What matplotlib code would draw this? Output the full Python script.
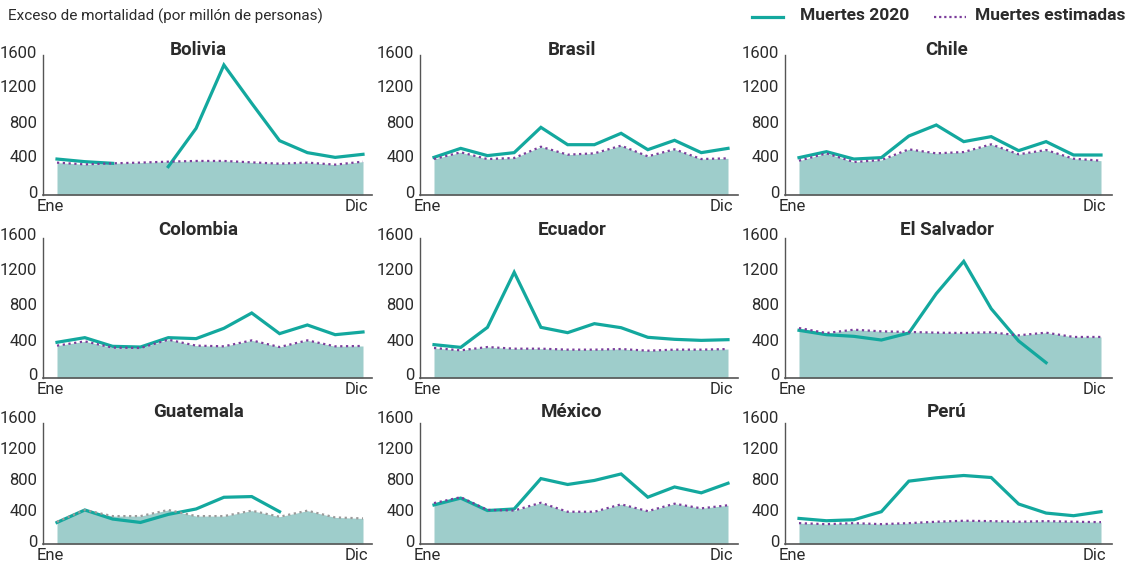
import numpy as np
import matplotlib
matplotlib.use("Agg")
import matplotlib.pyplot as plt
from matplotlib.lines import Line2D

plt.rcParams['font.family'] = ['Liberation Sans Narrow', 'Roboto', 'DejaVu Sans']

nan = np.nan
countries = ["Bolivia", "Brasil", "Chile", "Colombia", "Ecuador", "El Salvador",
             "Guatemala", "México", "Perú"]
first_month, last_month = "Ene", "Dic"
ytick_values = [0, 400, 800, 1200, 1600]

bolivia_2020 = [371, 341, 322, nan, 284, 722, 1446, 1008, 581, 444, 390, 425]
bolivia_est = [330, 310, 322, 330, 341, 349, 349, 333, 318, 330, 307, 341]
brasil_2020 = [390, 493, 410, 444, 733, 535, 535, 665, 478, 585, 444, 493]
brasil_est = [371, 448, 371, 383, 512, 421, 436, 524, 402, 482, 371, 379]
chile_2020 = [387, 455, 371, 387, 634, 760, 570, 627, 467, 570, 417, 417]
chile_est = [352, 436, 337, 360, 482, 436, 451, 539, 425, 474, 375, 352]
colombia_2020 = [368, 421, 322, 314, 421, 410, 528, 703, 467, 566, 455, 486]
colombia_est = [330, 379, 307, 303, 398, 330, 322, 390, 314, 390, 322, 326]
ecuador_2020 = [341, 310, 539, 1168, 539, 478, 581, 535, 425, 402, 390, 398]
ecuador_est = [303, 276, 314, 295, 295, 284, 284, 291, 272, 284, 284, 291]
salvador_2020 = [505, 455, 436, 394, 474, 924, 1293, 752, 383, 135, nan, nan]
salvador_est = [531, 474, 512, 493, 486, 478, 474, 482, 448, 478, 429, 429]
guatemala_2020 = [238, 399, 282, 238, 342, 412, 563, 572, 377, nan, nan, nan]
guatemala_est = [247, 399, 320, 320, 399, 320, 320, 390, 312, 390, 303, 290]
mexico_2020 = [464, 552, 392, 412, 804, 728, 780, 864, 564, 696, 620, 744]
mexico_est = [488, 564, 400, 392, 492, 376, 376, 472, 384, 480, 420, 460]
peru_2020 = [290, 260, 273, 377, 771, 814, 844, 818, 476, 359, 325, 377]
peru_est = [229, 216, 229, 216, 229, 247, 260, 255, 247, 255, 247, 242]

series_2020 = [bolivia_2020, brasil_2020, chile_2020, colombia_2020, ecuador_2020,
               salvador_2020, guatemala_2020, mexico_2020, peru_2020]
series_est = [bolivia_est, brasil_est, chile_est, colombia_est, ecuador_est,
              salvador_est, guatemala_est, mexico_est, peru_est]

TEAL = "#13a89e"
FILL = "#9ecdcb"
PURPLE = "#7b3d9b"
GRAY_DOT = "#9a9a9a"
TXT = "#2b2b2b"
AXC = "#555555"

W, H = 1130, 567
fig = plt.figure(figsize=(W / 100, H / 100), dpi=100)
fig.patch.set_facecolor("white")

col_spine = [43, 420, 785]
col_first = [57, 434, 799]
col_last = [363, 728, 1101]
col_end = [372, 738, 1112]
col_title = [198, 572, 947]
row_bottom = [195, 378, 544]
row_scale = [0.0875, 0.0875, 0.0775]
row_title = [50, 230, 412]
row_spinetop = [1565, 1560, 1520]
YMIN, YMAX = -40, 1650

x = np.arange(12)
for i, name in enumerate(countries):
    r, c = divmod(i, 3)
    s = (col_last[c] - col_first[c]) / 11
    bottom = row_bottom[r]
    top = bottom - (YMAX - YMIN) * row_scale[r]
    left = col_spine[c]
    right = col_end[c]
    ax = fig.add_axes([left / W, 1 - bottom / H, (right - left) / W, (bottom - top) / H])
    ax.set_xlim(-(col_first[c] - col_spine[c]) / s, 11 + (col_end[c] - col_last[c]) / s)
    ax.set_ylim(YMIN, YMAX)
    est = np.array(series_est[i], dtype=float)
    d20 = np.array(series_2020[i], dtype=float)
    ax.fill_between(x, YMIN, est, color=FILL, lw=0, zorder=1)
    ax.plot(x, d20, color=TEAL, lw=2.3, solid_joinstyle="miter", zorder=3)
    dot_color = GRAY_DOT if name == "Guatemala" else PURPLE
    ax.plot(x, est, color=dot_color, lw=1.6, linestyle=(0, (1, 1.6)), zorder=4)
    for sp in ["top", "right"]:
        ax.spines[sp].set_visible(False)
    ax.spines["left"].set_bounds(YMIN, row_spinetop[r])
    ax.spines["left"].set_color(AXC)
    ax.spines["bottom"].set_color(AXC)
    ax.spines["left"].set_linewidth(1.0)
    ax.spines["bottom"].set_linewidth(1.2)
    ax.spines["left"].set_zorder(5)
    ax.spines["bottom"].set_zorder(5)
    ax.set_yticks(ytick_values)
    ax.set_yticklabels([str(v) for v in ytick_values])
    ax.tick_params(axis="y", length=0, pad=4, labelsize=12, labelcolor=TXT)
    ax.set_xticks([])
    ax.patch.set_alpha(0)
    ax.text(-0.25, -0.03, first_month, transform=ax.get_xaxis_transform(),
            ha="center", va="top", fontsize=12, color=TXT)
    ax.text(10.75, -0.03, last_month, transform=ax.get_xaxis_transform(),
            ha="center", va="top", fontsize=12, color=TXT)
    fig.text(col_title[c] / W, 1 - row_title[r] / H, name, ha="center", va="center",
             fontsize=13.5, fontweight="bold", color=TXT)

fig.text(8 / W, 1 - 16 / H, "Exceso de mortalidad (por millón de personas)",
         ha="left", va="center", fontsize=11, color=TXT)

# legend
fig.add_artist(Line2D([752 / W, 783 / W], [1 - 17 / H, 1 - 17 / H], color=TEAL, lw=2.3))
fig.text(800 / W, 1 - 16 / H, "Muertes 2020", ha="left", va="center",
         fontsize=12.5, fontweight="bold", color=TXT)
fig.add_artist(Line2D([934 / W, 966 / W], [1 - 17 / H, 1 - 17 / H], color=PURPLE, lw=1.6,
                      linestyle=(0, (1, 1.3))))
fig.text(975 / W, 1 - 16 / H, "Muertes estimadas", ha="left", va="center",
         fontsize=12.5, fontweight="bold", color=TXT)

fig.savefig("out.png", dpi=100, facecolor="white")
